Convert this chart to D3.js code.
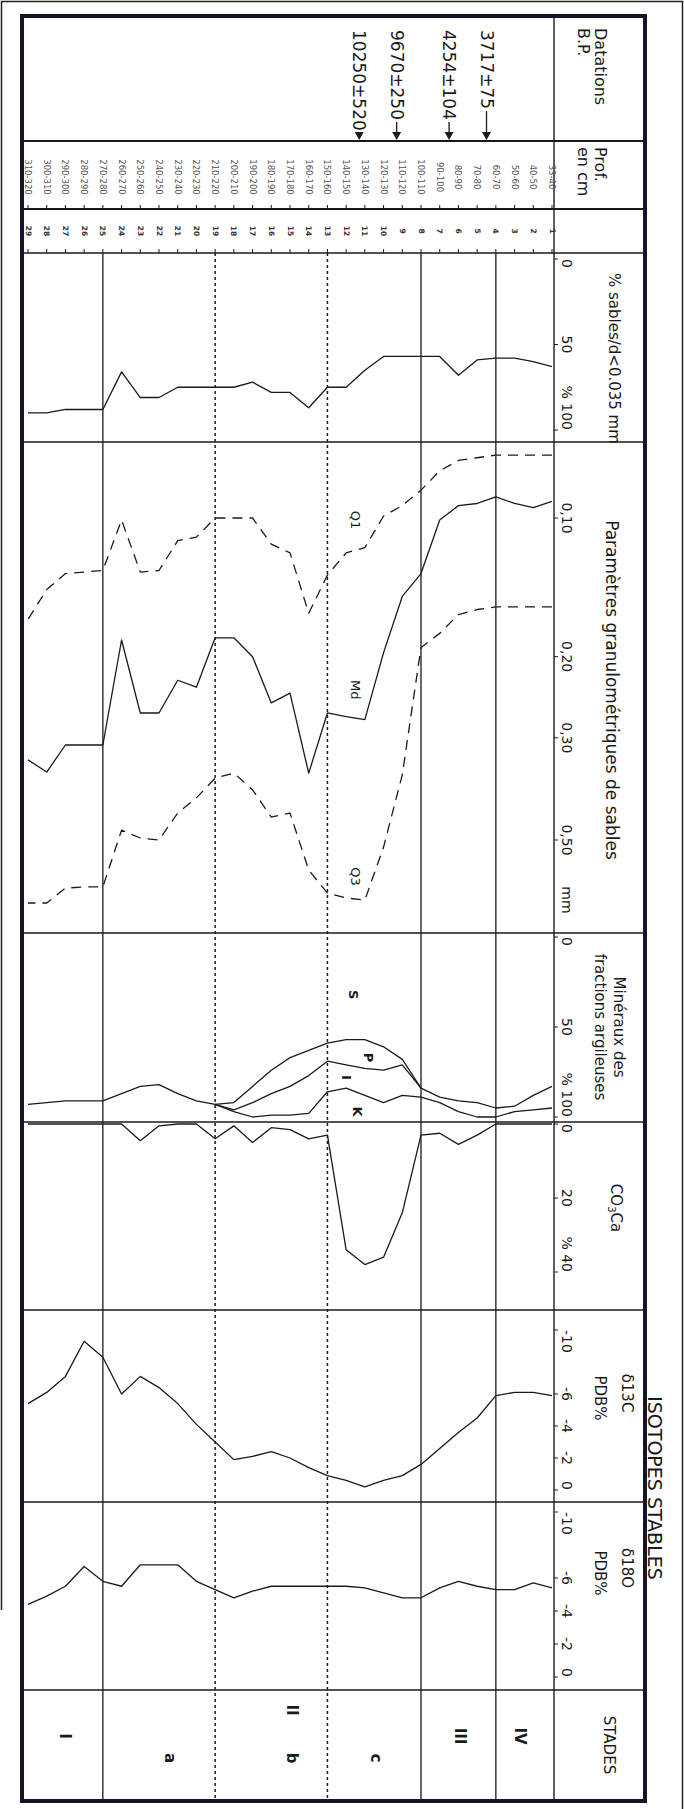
<!DOCTYPE html>
<html>
<head>
<meta charset="utf-8">
<script src="https://cdnjs.cloudflare.com/ajax/libs/d3/7.8.5/d3.min.js"></script>
<style>
body { margin: 0; background: #fff; }
svg { display: block; }
text { font-family: "DejaVu Sans", sans-serif; fill: #1a1a1a; }
</style>
</head>
<body>
<svg id="chart" width="684" height="1809"></svg>
<script>
// samples, top of core = 1
var samples = [1,2,3,4,5,6,7,8,9,10,11,12,13,14,15,16,17,18,19,20,21,22,23,24,25,26,27,28,29];
var depthLabels = ["33-40","40-50","50-60","60-70","70-80","80-90","90-100","100-110","110-120","120-130",
  "130-140","140-150","150-160","160-170","170-180","180-190","190-200","200-210","210-220","220-230",
  "230-240","240-250","250-260","260-270","270-280","280-290","290-300","300-310","310-320"];

// datations (position in sample units)
var dates = ["3717±75", "4254±104", "9670±250", "10250±520"];
var datePos = [4.5, 6.5, 9.3, 11.3];

// % sables / d<0.035 mm
var sables = [63,60,58,58,59,68,57,57,57,57,65,75,75,87,78,78,72,75,75,75,75,81,81,66,88,88,88,90,90];

// parametres granulometriques (mm)
var q1 = [0.073,0.073,0.073,0.073,0.074,0.075,0.079,0.087,0.094,0.099,0.116,0.119,0.133,0.161,0.119,
  0.114,0.100,0.100,0.100,0.110,0.112,0.130,0.131,0.101,0.130,0.131,0.132,0.143,0.166];
var md = [0.092,0.095,0.093,0.090,0.093,0.094,0.101,0.132,0.148,0.196,0.274,0.270,0.265,0.358,0.240,
  0.252,0.200,0.182,0.182,0.233,0.225,0.265,0.265,0.184,0.311,0.311,0.311,0.356,0.335];
var q3 = [0.156,0.156,0.156,0.156,0.158,0.162,0.178,0.191,0.361,0.518,0.675,0.668,0.652,0.581,0.437,
  0.446,0.389,0.358,0.367,0.405,0.437,0.500,0.495,0.476,0.632,0.632,0.636,0.685,0.685];

// mineraux des fractions argileuses, cumulated % (S, S+P, S+P+I)
var minS = [83,88,94,95,92,91,89,84,68,61,57,57,59,63,67,74,83,92,93,91,87,82,83,87,91,91,91,92,93];
var minSP = [null,null,null,null,null,null,null,84,71,74,73,71,69,77,83,87,92,96,93,
  null,null,null,null,null,null,null,null,null,null];
var minSPI = [95,96,97,100,100,97,92,89,88,92,88,84,86,98,99,99,100,97,93,
  null,null,null,null,null,null,null,null,null,null];

// CO3Ca %
var co3ca = [0,0,0,0,3,5.5,2.5,3,24,36,38,34,3,4,1.5,1,5,0.5,4,0,0,0.5,4.5,0,0,0,0,0,0];

// isotopes stables
var d13c = [-5.9,-6.1,-6.1,-5.9,-4.5,-3.6,-2.6,-1.6,-0.9,-0.6,-0.2,-0.6,-0.9,-1.4,-2.0,-2.4,-2.1,-1.9,
  -3.0,-4.1,-5.4,-6.4,-7.1,-6.0,-8.3,-9.3,-7.1,-6.1,-5.4];
var d18o = [-5.4,-5.7,-5.3,-5.3,-5.5,-5.8,-5.4,-4.8,-4.8,-5.1,-5.4,-5.5,-5.5,-5.5,-5.5,-5.5,-5.2,-4.8,
  -5.3,-5.8,-6.8,-6.8,-6.8,-5.5,-5.8,-6.7,-5.5,-4.9,-4.4];

// stades
var stadeSolid = [4, 8, 25];
var stadeDotted = [13, 19];
var stades = ["IV", "III", "II", "I"];
var stadePos = [2.7, 5.9, 14.9, 27.0];
var subStades = ["c", "b", "a"];
var subStadePos = [10.4, 14.9, 21.4];

var svg = d3.select("#chart");
var ink = "#1a1a1a";

var L = 22, R = 645, T = 16, B = 1801, AX = 554;
var rowLines = [141, 209, 253, 442, 933, 1122, 1310, 1502, 1690];

var x = d3.scaleLinear().domain([1, 29]).range([552, 28]);

var ySables = d3.scaleLinear().domain([0, 100]).range([259, 430]);
var yGran = d3.scaleLog().domain([0.1, 0.5]).range([518, 840]);
var yMin = d3.scaleLinear().domain([0, 100]).range([937, 1117]);
var yCo3 = d3.scaleLinear().domain([0, 40]).range([1124, 1272]);
var yC13 = d3.scaleLinear().domain([-10, 0]).range([1330, 1490]);
var yO18 = d3.scaleLinear().domain([-10, 0]).range([1512, 1677]);

function rt(sel, px, py, s, o) {
  o = o || {};
  return sel.append("text")
    .attr("transform", "translate(" + px + "," + py + ") rotate(90)")
    .attr("text-anchor", o.anchor || "middle")
    .attr("dominant-baseline", "central")
    .style("font-size", (o.size || 14) + "px")
    .style("font-weight", o.bold ? "bold" : null)
    .style("fill", o.fill || null)
    .text(s);
}

// outer thin border
svg.append("path")
  .attr("d", "M1.5,1610V1.5H682.5V1809")
  .attr("fill", "none").attr("stroke", "#222").attr("stroke-width", 1.5);

var grid = svg.append("g");

// row lines
grid.selectAll(".row").data(rowLines).enter().append("line")
  .attr("x1", L).attr("x2", R)
  .attr("y1", function(d) { return d; }).attr("y2", function(d) { return d; })
  .attr("stroke", ink).attr("stroke-width", function(d, i) { return i < 2 ? 2 : 1.6; });

// axis line
grid.append("line").attr("x1", AX).attr("x2", AX).attr("y1", T).attr("y2", B)
  .attr("stroke", ink).attr("stroke-width", 1.4);

// stade boundaries
grid.selectAll(".solid").data(stadeSolid).enter().append("line")
  .attr("x1", function(d) { return x(d); }).attr("x2", function(d) { return x(d); })
  .attr("y1", 253).attr("y2", B)
  .attr("stroke", ink).attr("stroke-width", 1.3);
grid.selectAll(".dotted").data(stadeDotted).enter().append("line")
  .attr("x1", function(d) { return x(d); }).attr("x2", function(d) { return x(d); })
  .attr("y1", 253).attr("y2", B)
  .attr("stroke", ink).attr("stroke-width", 1.5).attr("stroke-dasharray", "3,3");

// depth ticks
[209, 253].forEach(function(yy) {
  grid.selectAll(null).data(samples).enter().append("line")
    .attr("x1", function(d) { return x(d); }).attr("x2", function(d) { return x(d); })
    .attr("y1", yy - 4).attr("y2", yy)
    .attr("stroke", ink).attr("stroke-width", 1);
});

// main frame
svg.append("rect").attr("x", L).attr("y", T).attr("width", R - L).attr("height", B - T)
  .attr("fill", "none").attr("stroke", "#15152a").attr("stroke-width", 4);

// header
var head = svg.append("g");
rt(head, 600, 28, "Datations", {anchor: "start", size: 16});
rt(head, 583, 28, "B.P.", {anchor: "start", size: 16});
rt(head, 600, 147, "Prof.", {anchor: "start", size: 16});
rt(head, 583, 147, "en cm", {anchor: "start", size: 16});

dates.forEach(function(s, i) {
  var xx = x(datePos[i]);
  var t = rt(head, xx, 30, s, {anchor: "start", size: 17});
  var end = 30 + t.node().getComputedTextLength() + 2;
  head.append("line").attr("x1", xx).attr("x2", xx).attr("y1", end).attr("y2", 134)
    .attr("stroke", ink).attr("stroke-width", 1.3);
  head.append("path")
    .attr("d", "M" + (xx - 4.5) + ",132L" + (xx + 4.5) + ",132L" + xx + ",140Z")
    .attr("fill", ink);
});

head.selectAll(".depth").data(samples).enter().each(function(d, i) {
  rt(head, x(d), 177, depthLabels[i], {size: 8.5, fill: "#555"});
});
head.selectAll(".num").data(samples).enter().each(function(d) {
  rt(head, x(d), 231, String(d), {size: 7.5, bold: true, fill: "#333"});
});

// value axes (ticks + labels right of the axis line)
var axes = [
  {y: ySables, ticks: [0, 50, 100], labels: ["0", "50", "% 100"]},
  {y: yGran, ticks: [0.1, 0.2, 0.3, 0.5], labels: ["0,10", "0,20", "0,30", "0,50"]},
  {y: yMin, ticks: [0, 50, 100], labels: ["0", "50", "% 100"]},
  {y: yCo3, ticks: [0, 20, 40], labels: ["0", "20", "% 40"]},
  {y: yC13, ticks: [-10, -6, -4, -2, 0], labels: ["-10", "-6", "-4", "-2", "0"]},
  {y: yO18, ticks: [-10, -6, -4, -2, 0], labels: ["-10", "-6", "-4", "-2", "0"]}
];
var ax = svg.append("g");
axes.forEach(function(a) {
  var n = a.ticks.length;
  a.ticks.forEach(function(v, i) {
    var yy = a.y(v);
    ax.append("line").attr("x1", AX).attr("x2", AX + 4).attr("y1", yy).attr("y2", yy)
      .attr("stroke", ink).attr("stroke-width", 1);
    var anchor = i === 0 ? "start" : (i === n - 1 && a.labels[i].length > 2 ? "end" : "middle");
    if (a.y === yGran) anchor = "middle";
    if (a.y === yC13 || a.y === yO18) anchor = i === 0 ? "start" : (i === n - 1 ? "end" : "middle");
    rt(ax, 567, yy, a.labels[i], {anchor: anchor, size: 14});
  });
});
rt(ax, 567, yGran(0.5) + 60, "mm", {size: 14});

// panel titles
var tt = svg.append("g");
rt(tt, 614, 273, "% sables/d<0.035 mm", {anchor: "start", size: 15});
rt(tt, 612, 690, "Paramètres granulométriques de sables", {size: 17});
rt(tt, 619, 1027, "Minéraux des", {size: 15});
rt(tt, 600, 1027, "fractions argileuses", {size: 15});
var co = rt(tt, 616, 1208, "CO", {size: 15});
co.append("tspan").style("font-size", "10px").attr("dy", 4).text("3");
co.append("tspan").attr("dy", -4).text("Ca");
rt(tt, 627, 1393, "δ13C", {size: 15});
rt(tt, 600, 1398, "PDB%", {size: 15});
rt(tt, 627, 1568, "δ18O", {size: 15});
rt(tt, 600, 1573, "PDB%", {size: 15});
rt(tt, 655, 1488, "ISOTOPES STABLES", {size: 19});
rt(tt, 609, 1745, "STADES", {size: 15});

// curves
var curves = svg.append("g").attr("fill", "none").attr("stroke", ink).attr("stroke-width", 1.3)
  .attr("stroke-linejoin", "round");
function draw(values, yScale, dash) {
  var line = d3.line()
    .defined(function(d) { return d != null; })
    .x(function(d, i) { return x(samples[i]); })
    .y(function(d) { return yScale(d); });
  curves.append("path").attr("d", line(values)).attr("stroke-dasharray", dash || null);
}
draw(sables, ySables);
draw(q1, yGran, "10,7");
draw(md, yGran);
draw(q3, yGran, "10,7");
draw(minS, yMin);
draw(minSP, yMin);
draw(minSPI, yMin);
draw(co3ca, yCo3);
draw(d13c, yC13);
draw(d18o, yO18);

// curve labels
var cl = svg.append("g");
rt(cl, x(11.5), yGran(0.101), "Q1", {size: 13});
rt(cl, x(11.5), yGran(0.236), "Md", {size: 13});
rt(cl, x(11.5), yGran(0.60), "Q3", {size: 13});
rt(cl, x(11.6), yMin(32), "S", {size: 13, bold: true});
rt(cl, x(10.8), yMin(67), "P", {size: 13, bold: true});
rt(cl, x(12.0), yMin(78), "I", {size: 13, bold: true});
rt(cl, x(11.4), yMin(97), "K", {size: 13, bold: true});

// stades
var st = svg.append("g");
stades.forEach(function(s, i) {
  rt(st, x(stadePos[i]), s === "II" ? 1710 : 1736, s, {size: 15, bold: true});
});
subStades.forEach(function(s, i) {
  rt(st, x(subStadePos[i]), 1758, s, {size: 15, bold: true});
});
</script>
</body>
</html>
